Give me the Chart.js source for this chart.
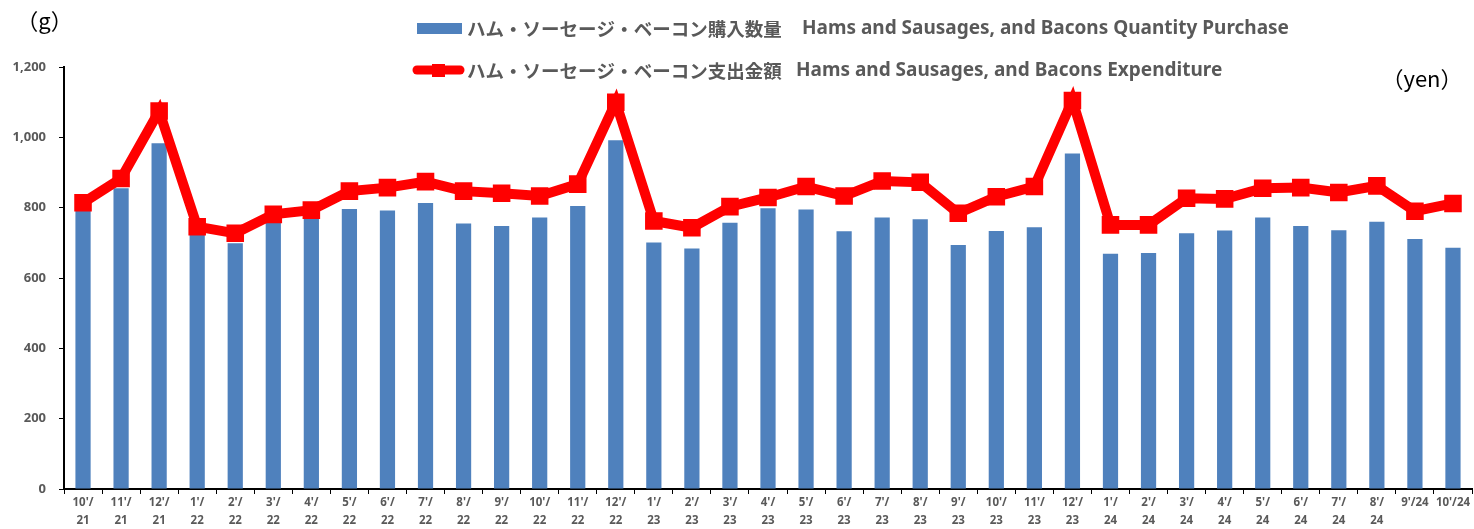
<!DOCTYPE html>
<html>
<head>
<meta charset="utf-8">
<script src="https://cdn.jsdelivr.net/npm/chart.js@4.4.1/dist/chart.umd.min.js"></script>
<style>
html,body{margin:0;padding:0;background:#fff;}
#wrap{position:relative;width:1474px;height:529px;}
</style>
</head>
<body>
<div id="wrap"><canvas id="c" width="1474" height="529"></canvas></div>
<script>
const categories = [
  ["10'/","21"],["11'/","21"],["12'/","21"],
  ["1'/","22"],["2'/","22"],["3'/","22"],["4'/","22"],["5'/","22"],["6'/","22"],
  ["7'/","22"],["8'/","22"],["9'/","22"],["10'/","22"],["11'/","22"],["12'/","22"],
  ["1'/","23"],["2'/","23"],["3'/","23"],["4'/","23"],["5'/","23"],["6'/","23"],
  ["7'/","23"],["8'/","23"],["9'/","23"],["10'/","23"],["11'/","23"],["12'/","23"],
  ["1'/","24"],["2'/","24"],["3'/","24"],["4'/","24"],["5'/","24"],["6'/","24"],
  ["7'/","24"],["8'/","24"],"9'/24","10'/24"
];
const quantityGrams = [
  793, 855, 983, 730, 699, 757, 768, 796, 792, 813, 755, 748,
  772, 805, 992, 701, 684, 757, 798, 795, 733, 772, 767, 694,
  734, 744, 954, 669, 671, 727, 735, 772, 748, 736, 760, 711, 686
];
const expenditureYen = [
  814, 883, 1075, 746, 727, 781, 793, 847, 857, 874, 847, 841,
  833, 867, 1100, 762, 743, 803, 829, 860, 833, 876, 872, 784,
  831, 860, 1105, 751, 751, 827, 825, 855, 857, 843, 862, 790, 812
];
const yTicks = [0, 200, 400, 600, 800, 1000, 1200];

const seriesQtyJP = "ハム・ソーセージ・ベーコン購入数量";
const seriesQtyEN = "Hams and Sausages, and Bacons Quantity Purchase";
const seriesExpJP = "ハム・ソーセージ・ベーコン支出金額";
const seriesExpEN = "Hams and Sausages, and Bacons Expenditure";
const unitLeft = "（g）";
const unitRight = "（yen）";

const BLUE = "#4F81BD";
const RED = "#FF0000";
const GRAY = "#595959";

function fitText(ctx, text, weight, family, targetW, maxSize) {
  let size = maxSize;
  ctx.font = weight + " " + size + "px " + family;
  const w = ctx.measureText(text).width;
  size = Math.min(maxSize, size * targetW / w);
  ctx.font = weight + " " + size.toFixed(2) + "px " + family;
}

const decor = {
  id: 'decor',
  afterDraw(chart) {
    const ctx = chart.ctx;
    ctx.save();
    ctx.textBaseline = 'middle';
    // legend row 1
    ctx.fillStyle = BLUE;
    ctx.fillRect(417, 23, 45, 11);
    ctx.fillStyle = GRAY;
    ctx.textAlign = 'left';
    fitText(ctx, seriesQtyJP, 'bold', '"Noto Sans CJK JP"', 315, 19);
    ctx.fillText(seriesQtyJP, 467, 29);
    fitText(ctx, seriesQtyEN, 'bold', '"Noto Sans"', 511, 19);
    ctx.fillText(seriesQtyEN, 802, 29);
    // legend row 2
    ctx.strokeStyle = RED;
    ctx.lineWidth = 9;
    ctx.lineCap = 'round';
    ctx.beginPath();
    ctx.moveTo(417, 70);
    ctx.lineTo(460, 70);
    ctx.stroke();
    ctx.fillStyle = RED;
    ctx.fillRect(432, 64, 13, 13);
    ctx.fillStyle = GRAY;
    fitText(ctx, seriesExpJP, 'bold', '"Noto Sans CJK JP"', 315, 19);
    ctx.fillText(seriesExpJP, 467, 71);
    fitText(ctx, seriesExpEN, 'bold', '"Noto Sans"', 454, 19);
    ctx.fillText(seriesExpEN, 796, 71);
    // units
    ctx.fillStyle = '#000';
    ctx.textAlign = 'center';
    ctx.font = '22px "Noto Sans CJK JP"';
    ctx.fillText(unitLeft, 44.5, 21);
    ctx.fillText(unitRight, 1422, 79);
    ctx.restore();
  }
};

new Chart(document.getElementById('c'), {
  type: 'bar',
  data: {
    labels: categories,
    datasets: [
      {
        type: 'line',
        label: seriesExpJP,
        data: expenditureYen,
        borderColor: RED,
        backgroundColor: RED,
        borderWidth: 10,
        pointStyle: 'rect',
        pointRadius: 11,
        pointBorderWidth: 2,
        pointBackgroundColor: RED,
        pointBorderColor: RED,
        tension: 0,
        clip: false,
        order: 0
      },
      {
        type: 'bar',
        label: seriesQtyJP,
        data: quantityGrams,
        backgroundColor: BLUE,
        borderWidth: 0,
        barPercentage: 0.4,
        categoryPercentage: 1.0,
        order: 1
      }
    ]
  },
  options: {
    responsive: false,
    animation: false,
    events: [],
    layout: { autoPadding: false, padding: { top: 67, right: 2, left: 0, bottom: 0 } },
    plugins: { legend: { display: false }, tooltip: { enabled: false } },
    scales: {
      x: {
        offset: true,
        grid: { display: true, drawOnChartArea: false, drawTicks: true, tickLength: 5, color: '#000', offset: true },
        border: { display: true, color: '#000', width: 2 },
        ticks: {
          color: GRAY,
          font: { family: '"Noto Sans"', weight: 'bold', size: 11.5, lineHeight: 1.55 },
          padding: 0,
          maxRotation: 0,
          minRotation: 0,
          autoSkip: false
        },
        afterFit(s) { s.height = 40; s.paddingLeft = 0; s.paddingRight = 0; }
      },
      y: {
        min: 0,
        max: 1200,
        afterBuildTicks(s) { s.ticks = yTicks.map(v => ({ value: v })); },
        grid: { display: true, drawOnChartArea: false, drawTicks: true, tickLength: 5, color: '#000' },
        border: { display: true, color: '#000', width: 2 },
        ticks: {
          color: GRAY,
          font: { family: '"Noto Sans"', weight: 'bold', size: 13 },
          padding: 13,
          callback: v => v.toLocaleString('en-US')
        },
        afterFit(s) { s.width = 64; s.paddingTop = 0; s.paddingBottom = 0; }
      }
    }
  },
  plugins: [decor]
});
</script>
</body>
</html>
